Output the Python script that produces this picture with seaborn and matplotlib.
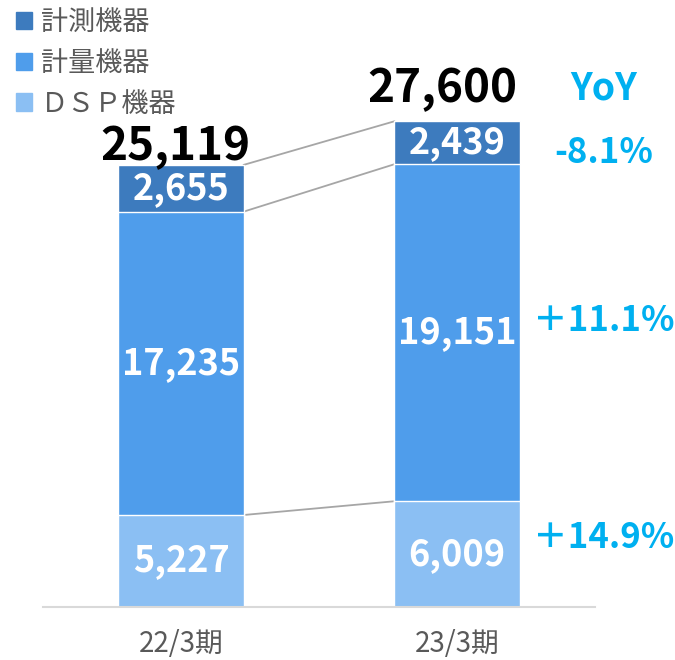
import matplotlib
matplotlib.use("Agg")
import matplotlib.pyplot as plt
from matplotlib.patches import Patch
import numpy as np
import pandas as pd
import seaborn as sns

# data
periods = ["22/3期", "23/3期"]
dsp = [5227, 6009]        # ＤＳＰ機器
keiryo = [17235, 19151]   # 計量機器
keisoku = [2655, 2439]    # 計測機器
totals = [25119, 27600]   # as printed (rounded)
yoy = ["-8.1%", "＋11.1%", "＋14.9%"]
series_names = ["計測機器", "計量機器", "ＤＳＰ機器"]

c_dark = "#3D7BBE"
c_mid = "#4F9DEB"
c_light = "#8BBFF3"
c_yoy = "#00B0F0"
c_text = "#595959"

sns.set_style("white")
plt.rcParams['font.family'] = ['Noto Sans CJK JP', 'DejaVu Sans']

df = pd.DataFrame({"period": periods, "dsp": dsp, "keiryo": keiryo,
                   "keisoku": keisoku, "total": totals})
df["lvl1"] = df["dsp"]
df["lvl2"] = df["dsp"] + df["keiryo"]

fig = plt.figure(figsize=(6.75, 6.6), dpi=100)
ax = fig.add_axes([0.0637, 0.0803, 0.8178, 0.9197])

# overlapping cumulative bars -> stacked look
w = 0.453
sns.barplot(data=df, x="period", y="total", color=c_dark, saturation=1, width=w, errorbar=None, ax=ax)
sns.barplot(data=df, x="period", y="lvl2", color=c_mid, saturation=1, width=w, errorbar=None, ax=ax)
sns.barplot(data=df, x="period", y="lvl1", color=c_light, saturation=1, width=w, errorbar=None, ax=ax)

ax.set_xlim(-0.5, 1.5)
ax.set_ylim(0, 34490)

# connector lines between bars
for col in ["total", "lvl2", "lvl1"]:
    ax.plot([w / 2, 1 - w / 2], [df[col][0], df[col][1]], color="#A6A6A6", lw=1.3, zorder=0.5)

# segment labels
tot_dx = [-0.02, -0.052]
tot_dy = [-320, 530]
for i in range(2):
    segs = [(0, df["lvl1"][i], df["dsp"][i]),
            (df["lvl1"][i], df["lvl2"][i], df["keiryo"][i]),
            (df["lvl2"][i], df["total"][i], df["keisoku"][i])]
    for lo, hi, v in segs:
        ax.text(i, (lo + hi) / 2, f"{v:,}", ha="center", va="center",
                color="white", fontsize=26, fontweight="bold")
    ax.text(i + tot_dx[i], df["total"][i] + tot_dy[i], f"{df['total'][i]:,}", ha="center", va="bottom",
            color="black", fontsize=33, fontweight="bold")

# YoY column
xy = 1.533
ax.text(xy, 29500, "YoY", ha="center", va="center", color=c_yoy, fontsize=27, fontweight="bold", clip_on=False)
for txt, yy in zip(yoy, [25852, 16307, 3977]):
    ax.text(xy, yy, txt, ha="center", va="center", color=c_yoy, fontsize=25, fontweight="bold", clip_on=False)

# axes styling
for s in ["top", "right", "left"]:
    ax.spines[s].set_visible(False)
ax.spines["bottom"].set_color("#D9D9D9")
ax.spines["bottom"].set_linewidth(1.5)
ax.set_yticks([])
ax.set_xlabel("")
ax.set_ylabel("")
ax.tick_params(axis="x", which="major", length=0, pad=16, labelsize=20, labelcolor=c_text)
ax.set_xticks([-0.5, 0.5, 1.5], minor=True)
ax.tick_params(axis="x", which="minor", length=7, width=1.5, color="#D9D9D9")

handles = [Patch(color=c) for c in [c_dark, c_mid, c_light]]
leg = fig.legend(handles, series_names, loc="upper left", bbox_to_anchor=(0.012, 0.998),
                 frameon=False, fontsize=19.5, handlelength=0.6, handleheight=0.6,
                 handletextpad=0.3, labelspacing=0.5, borderpad=0.3, borderaxespad=0)
for t in leg.get_texts():
    t.set_color(c_text)

fig.savefig("out.png", dpi=100)
